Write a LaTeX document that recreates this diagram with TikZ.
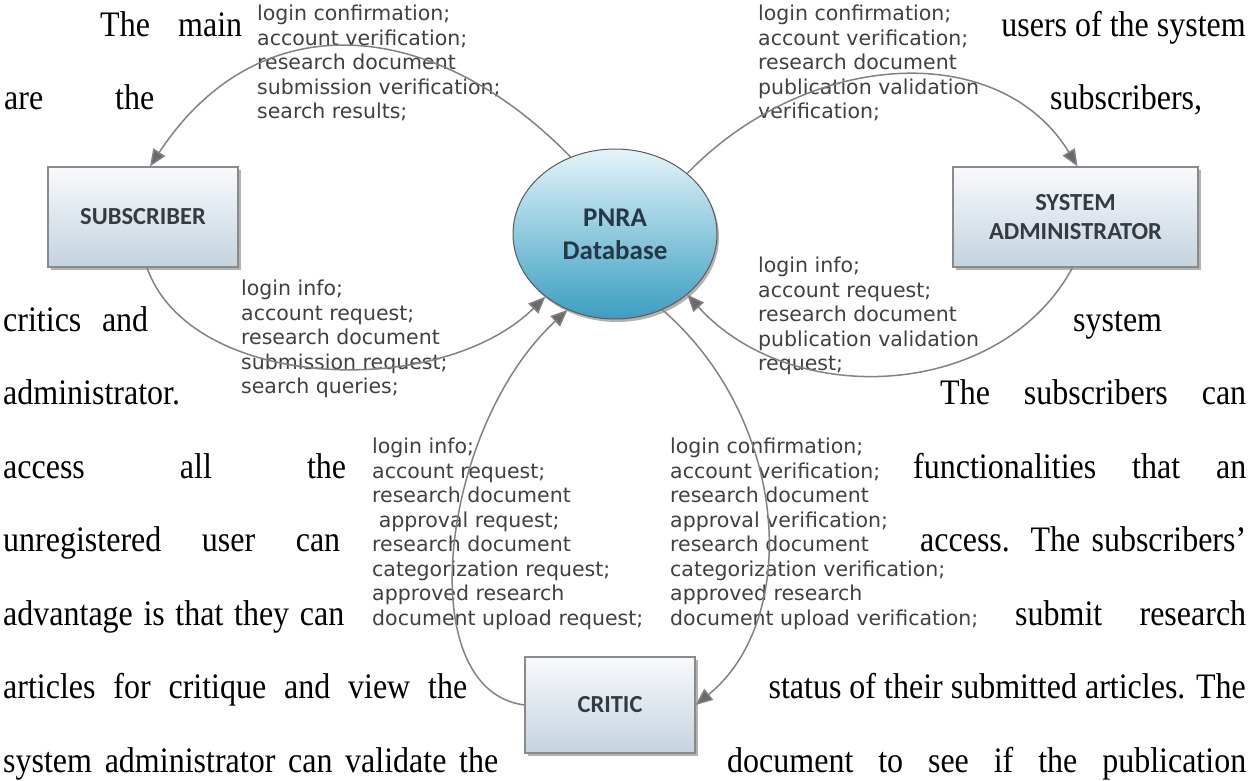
\documentclass[tikz,border=0pt]{standalone}
\usepackage{fontspec}
\setmainfont{Liberation Serif}
\newfontfamily\lblfont{DejaVu Sans}
\newfontfamily\boxfnt{Carlito}
\usetikzlibrary{arrows.meta,shapes.geometric,shadows}
\definecolor{edgegray}{HTML}{828282}
\definecolor{tipgray}{HTML}{6A6A6A}
\definecolor{lbltext}{HTML}{404040}
\definecolor{boxtop}{HTML}{F8FAFC}
\definecolor{boxbot}{HTML}{C4D3DF}
\definecolor{boxline}{HTML}{8A8A8A}
\definecolor{dbtop}{HTML}{E4F4F9}
\definecolor{dbbot}{HTML}{3A9EC2}
\definecolor{dbline}{HTML}{5A5A5A}
\definecolor{nodetext}{HTML}{363B40}
\definecolor{dbtext}{HTML}{263746}
\newcommand{\tallbody}[1]{\scalebox{1}[1.12]{#1}}
\begin{document}
\begin{tikzpicture}[x=1pt,y=-1pt,
  body/.style={inner sep=0pt, font=\fontsize{32}{36}\selectfont, anchor=base west},
  bodyr/.style={body, anchor=base east},
  flowlbl/.style={inner sep=0pt, anchor=north west, align=left, text=lbltext,
    font=\lblfont\fontsize{20.5}{24.5}\selectfont},
  entity/.style={draw=boxline, line width=1.2pt, top color=boxtop, bottom color=boxbot,
    inner sep=0pt, align=center, text=nodetext,
    font=\boxfnt\bfseries\fontsize{24.5}{29}\selectfont,
    drop shadow={shadow xshift=3pt, shadow yshift=-3pt, fill=black, opacity=0.3}},
  store/.style={ellipse, draw=dbline, line width=1pt, top color=dbtop, bottom color=dbbot,
    inner sep=0pt, minimum width=204pt, minimum height=170pt, align=center, text=dbtext,
    font=\boxfnt\bfseries\fontsize{27}{33}\selectfont,
    drop shadow={shadow xshift=2pt, shadow yshift=-3pt, fill=black, opacity=0.3}},
  flow/.style={draw=edgegray, line width=1.5pt,
    -{Triangle[length=17pt,width=14pt,fill=tipgray]}}
]
\useasboundingbox (0,0) rectangle (1250,781);
\fill[white] (0,0) rectangle (1250,781);

% body text
\node[body] (b1l) at (100,37) {\tallbody{\makebox[142pt][s]{The main}}};
\node[bodyr] (b1r) at (1246,37) {\tallbody{users of the system}};
\node[body] (b2l) at (4,110) {\tallbody{\makebox[150pt][s]{are the}}};
\node[body] (b2r) at (1050,110) {\tallbody{subscribers,}};
\node[body] (b3l) at (3,331) {\tallbody{\makebox[145pt][s]{critics and}}};
\node[body] (b3r) at (1073,331) {\tallbody{system}};
\node[body] (b4l) at (3,404) {\tallbody{administrator.}};
\node[body] (b4r) at (940,404) {\tallbody{\makebox[306pt][s]{The subscribers can}}};
\node[body] (b5l) at (3,478) {\tallbody{\makebox[343pt][s]{access all the}}};
\node[body] (b5r) at (913,478) {\tallbody{\makebox[333pt][s]{functionalities that an}}};
\node[body] (b6l) at (3,551) {\tallbody{\makebox[337pt][s]{unregistered user can}}};
\node[body] (b6r) at (920,551) {\tallbody{\makebox[326pt][s]{access. The subscribers’}}};
\node[body] (b7l) at (3,625) {\tallbody{\makebox[341pt][s]{advantage is that they can}}};
\node[body] (b7r) at (1015,625) {\tallbody{\makebox[231pt][s]{submit research}}};
\node[body] (b8l) at (3,698) {\tallbody{\makebox[464pt][s]{articles for critique and view the}}};
\node[bodyr] (b8r) at (1246,698) {\tallbody{status of their submitted articles. The}};
\node[body] (b9l) at (3,772) {\tallbody{\makebox[495pt][s]{system administrator can validate the}}};
\node[body] (b9r) at (727,772) {\tallbody{\makebox[519pt][s]{document to see if the publication}}};

% flow labels
\node[flowlbl] (lblA) at (257,5) {login confirmation;\\account verification;\\research document\\submission verification;\\search results;};
\node[flowlbl] (lblB) at (758,5) {login confirmation;\\account verification;\\research document\\publication validation\\verification;};
\node[flowlbl] (lblC) at (241,280) {login info;\\account request;\\research document\\submission request;\\search queries;};
\node[flowlbl] (lblD) at (758,257) {login info;\\account request;\\research document\\publication validation\\request;};
\node[flowlbl] (lblE) at (372,438) {login info;\\account request;\\research document\\\hspace*{0.32em}approval request;\\research document\\categorization request;\\approved research\\document upload request;};
\node[flowlbl] (lblF) at (670,438) {login confirmation;\\account verification;\\research document\\approval verification;\\research document\\categorization verification;\\approved research\\document upload verification;};

% entities
\node[entity, minimum width=190pt, minimum height=100pt] (sub) at (143,217) {SUBSCRIBER};
\node[entity, minimum width=245pt, minimum height=100pt] (adm) at (1075.5,217) {SYSTEM\\ADMINISTRATOR};
\node[entity, minimum width=170pt, minimum height=96pt] (crit) at (610,705) {CRITIC};
\node[store] (db) at (615,234) {PNRA\\Database};

% flows
\draw[flow] (db.120) .. controls +(-135,-139) and +(110,-167) .. ([xshift=7pt]sub.north);
\draw[flow] (db.40) .. controls +(120,-124) and +(-78,-128) .. ([xshift=2pt]adm.north);
\draw[flow] ([xshift=4pt]sub.south) .. controls +(43,123) and +(-106,104) .. (db.222);
\draw[flow] (crit.west) .. controls +(-115,-15) and +(-127,117) .. (db.238);
\draw[flow] ([xshift=-3pt]adm.south) .. controls +(-72,133) and +(104,115) .. (db.-40);
\draw[flow] (db.-58) .. controls +(128,111) and +(105,-85) .. (crit.east);
\end{tikzpicture}
\end{document}
